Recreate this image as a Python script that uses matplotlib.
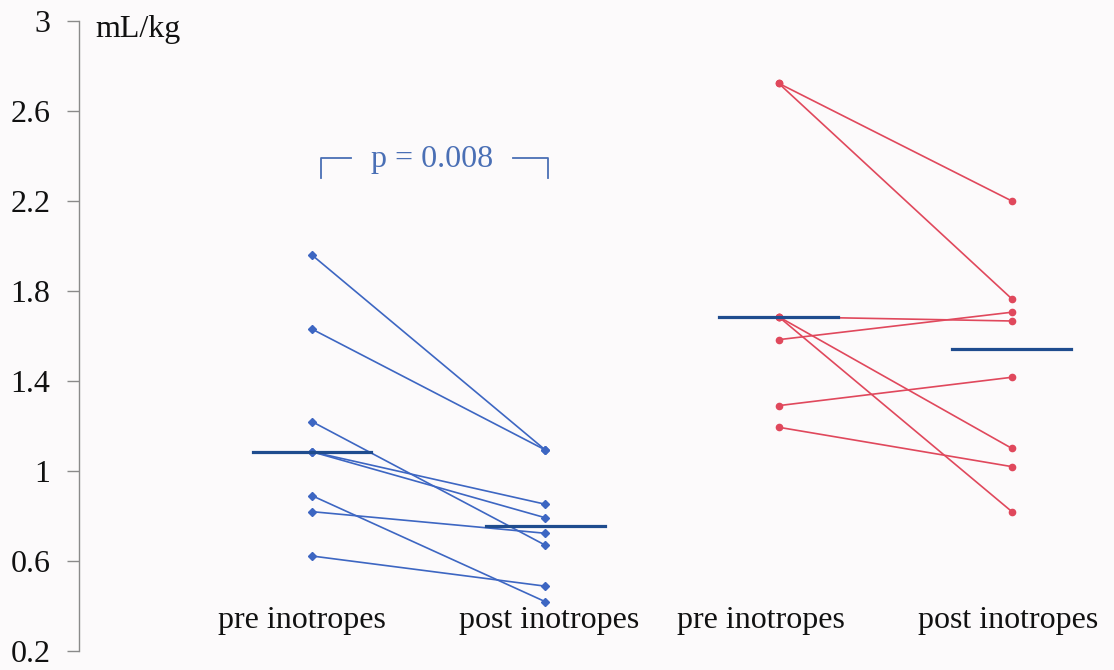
import numpy as np
import matplotlib
matplotlib.use('Agg')
import matplotlib.pyplot as plt

plt.rcParams['font.family'] = ['Liberation Serif', 'DejaVu Serif']

# paired values (mL/kg), one entry per patient
blue_pre = [1.959, 1.630, 1.219, 1.085, 1.085, 0.890, 0.819, 0.622]
blue_post = [1.093, 1.093, 0.670, 0.852, 0.792, 0.419, 0.723, 0.488]
red_pre = [2.722, 2.722, 1.685, 1.583, 1.685, 1.685, 1.290, 1.194]
red_post = [2.199, 1.764, 1.666, 1.705, 1.100, 0.819, 1.416, 1.019]

x_labels = ['pre inotropes', 'post inotropes', 'pre inotropes', 'post inotropes']
y_ticks = [0.2, 0.6, 1, 1.4, 1.8, 2.2, 2.6, 3]
p_text = 'p = 0.008'
unit = 'mL/kg'

blue = '#3d66c2'
red = '#e0485c'
navy = '#1f4c8e'
fs = 23

fig = plt.figure(figsize=(11.14, 6.70), dpi=100, facecolor='#fcfafb')
ax = fig.add_axes([79/1114, 19/670, 1 - 79/1114, 630.3/670])
ax.set_facecolor('#fcfafb')

def draw_group(x0, pre, post, col, marker):
    for a, b in zip(pre, post):
        ax.plot([x0, x0 + 1], [a, b], color=col, lw=1.2, marker=marker,
                ms=4.5, mfc=col, mec=col, zorder=3)
    hw = 0.255
    ax.plot([x0 - hw, x0 + hw], [np.median(pre)] * 2, color=navy, lw=2.3, zorder=4)
    ax.plot([x0 + 1 - hw, x0 + 1 + hw], [np.median(post)] * 2, color=navy, lw=2.3, zorder=4)

draw_group(1, blue_pre, blue_post, blue, 'D')
draw_group(3, red_pre, red_post, red, 'o')

ax.set_xlim(0.0013, 4.4376)
ax.set_ylim(0.2, 3)
ax.set_yticks(y_ticks)
ax.set_yticklabels([f'{t:g}' for t in y_ticks], fontsize=fs, color='#111111')
ax.set_xticks([])
for s in ['top', 'right', 'bottom']:
    ax.spines[s].set_visible(False)
ax.spines['left'].set_color('#8a8a8a')
ax.spines['left'].set_linewidth(1.0)
ax.tick_params(axis='y', direction='out', length=8.5, width=1.0, color='#8a8a8a', pad=12)

# category names under the points
label_x = [0.957, 2.016, 2.923, 3.983]
for lx, txt in zip(label_x, x_labels):
    ax.text(lx, 0.335, txt, ha='center', va='center', fontsize=fs, color='#111111')

ax.text(0.07, 2.928, unit, ha='left', va='baseline', fontsize=fs, color='#111111')

# significance bracket
bc = '#4a6fb5'
ax.plot([1.037, 1.037, 1.166], [2.301, 2.390, 2.390], color=bc, lw=1.3)
ax.plot([1.863, 2.013, 2.013], [2.390, 2.390, 2.301], color=bc, lw=1.3)
ax.text(1.515, 2.351, p_text, ha='center', va='baseline', fontsize=fs, color=bc)

fig.savefig('out.png', dpi=100, facecolor=fig.get_facecolor())
